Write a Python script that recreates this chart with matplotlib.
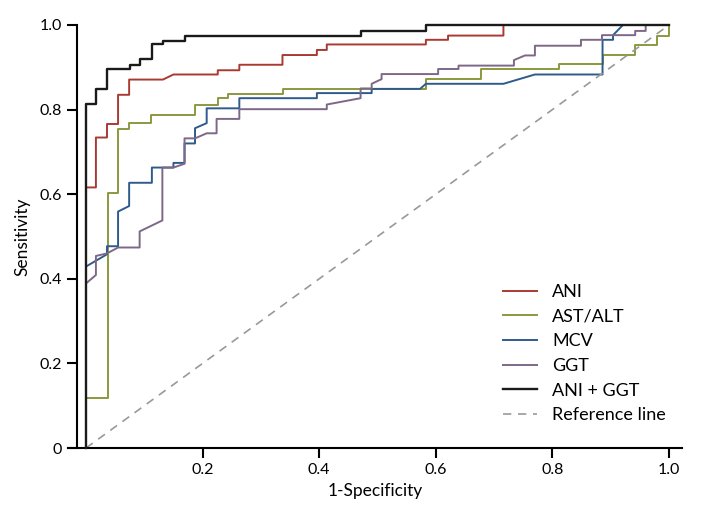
import numpy as np
import matplotlib
matplotlib.use("Agg")
import matplotlib.pyplot as plt

plt.rcParams['font.family'] = ['Lato', 'DejaVu Sans']

# ROC curves: (1-specificity, sensitivity) vertices
ani_x = [0, 0, 0.017, 0.017, 0.036, 0.036, 0.055, 0.055, 0.074, 0.074, 0.132, 0.150,
         0.226, 0.226, 0.263, 0.263, 0.337, 0.337, 0.396, 0.396, 0.413, 0.413,
         0.583, 0.583, 0.621, 0.621, 0.716, 0.716, 1.0]
ani_y = [0, 0.616, 0.616, 0.734, 0.734, 0.766, 0.766, 0.835, 0.835, 0.871, 0.871, 0.883,
         0.883, 0.893, 0.893, 0.906, 0.906, 0.929, 0.929, 0.941, 0.941, 0.954,
         0.954, 0.965, 0.965, 0.975, 0.975, 1.0, 1.0]

astalt_x = [0, 0, 0.038, 0.038, 0.055, 0.055, 0.074, 0.074, 0.111, 0.111, 0.187, 0.187,
            0.226, 0.226, 0.244, 0.244, 0.338, 0.338, 0.583, 0.583, 0.677, 0.677,
            0.811, 0.811, 0.886, 0.886, 0.941, 0.941, 0.979, 0.979, 1.0, 1.0]
astalt_y = [0, 0.119, 0.119, 0.604, 0.604, 0.754, 0.754, 0.768, 0.768, 0.787, 0.787, 0.811,
            0.811, 0.827, 0.827, 0.837, 0.837, 0.849, 0.849, 0.872, 0.872, 0.895,
            0.895, 0.907, 0.907, 0.929, 0.929, 0.953, 0.953, 0.975, 0.975, 1.0]

mcv_x = [0, 0, 0.036, 0.036, 0.055, 0.055, 0.074, 0.074, 0.113, 0.113, 0.150, 0.150,
         0.169, 0.169, 0.187, 0.187, 0.207, 0.207, 0.263, 0.263, 0.396, 0.396,
         0.490, 0.490, 0.573, 0.583, 0.716, 0.770, 0.886, 0.886, 0.904, 0.904, 0.921, 1.0]
mcv_y = [0, 0.429, 0.458, 0.477, 0.477, 0.559, 0.572, 0.627, 0.627, 0.663, 0.663, 0.674,
         0.674, 0.720, 0.720, 0.756, 0.768, 0.803, 0.803, 0.827, 0.827, 0.839,
         0.839, 0.849, 0.849, 0.861, 0.861, 0.883, 0.883, 0.965, 0.965, 0.976, 1.0, 1.0]

ggt_x = [0, 0, 0.017, 0.017, 0.036, 0.055, 0.092, 0.092, 0.131, 0.131, 0.150, 0.169,
         0.169, 0.187, 0.207, 0.224, 0.224, 0.263, 0.263, 0.413, 0.413, 0.471, 0.471,
         0.490, 0.490, 0.507, 0.507, 0.604, 0.604, 0.639, 0.639, 0.734, 0.734, 0.753,
         0.770, 0.770, 0.849, 0.849, 0.885, 0.885, 0.942, 0.942, 0.960, 0.960, 1.0]
ggt_y = [0, 0.389, 0.409, 0.454, 0.460, 0.474, 0.474, 0.512, 0.538, 0.663, 0.663, 0.672,
         0.732, 0.732, 0.744, 0.744, 0.778, 0.778, 0.801, 0.801, 0.812, 0.827, 0.850,
         0.850, 0.861, 0.872, 0.884, 0.884, 0.896, 0.896, 0.904, 0.904, 0.917, 0.928,
         0.928, 0.951, 0.951, 0.965, 0.965, 0.976, 0.976, 0.986, 0.986, 1.0, 1.0]

anigt_x = [0, 0, 0.017, 0.017, 0.036, 0.036, 0.075, 0.075, 0.093, 0.093, 0.113, 0.113,
           0.132, 0.132, 0.169, 0.169, 0.472, 0.472, 0.584, 0.584, 1.0]
anigt_y = [0, 0.813, 0.813, 0.849, 0.849, 0.895, 0.895, 0.905, 0.905, 0.920, 0.920, 0.954,
           0.954, 0.962, 0.962, 0.975, 0.975, 0.986, 0.986, 1.0, 1.0]

labels = ['ANI', 'AST/ALT', 'MCV', 'GGT', 'ANI + GGT', 'Reference line']
colors = ['#a83a32', '#8a9a3e', '#2f5b8c', '#7d6888', '#1a1a1a', '#999999']

fig = plt.figure(figsize=(7.01, 5.11), dpi=100)
ax = fig.add_axes([68 / 701, 63 / 511, 614 / 701, 423 / 511])

curves = [(ani_x, ani_y), (astalt_x, astalt_y), (mcv_x, mcv_y), (ggt_x, ggt_y)]
for (cx, cy), lab, col in zip(curves, labels[:4], colors[:4]):
    ax.plot(cx, cy, color=col, lw=1.4, label=lab, clip_on=False)
ax.plot(anigt_x, anigt_y, color=colors[4], lw=1.7, label=labels[4], clip_on=False, zorder=3)
ax.plot([0, 1], [0, 1], color=colors[5], lw=1.2, ls=(0, (5, 4)), label=labels[5])

ax.set_xlim(-18 / 583, 596 / 583)
ax.set_ylim(0, 1)

for s in ['top', 'right']:
    ax.spines[s].set_visible(False)
ax.spines['left'].set_position(('data', -9 / 583))
ax.spines['left'].set_linewidth(1.5)
ax.spines['bottom'].set_linewidth(1.5)

ax.set_xticks([0.2, 0.4, 0.6, 0.8, 1.0])
ax.set_xticklabels(['0.2', '0.4', '0.6', '0.8', '1.0'])
ax.set_yticks([0, 0.2, 0.4, 0.6, 0.8, 1.0])
ax.set_yticklabels(['0', '0.2', '0.4', '0.6', '0.8', '1.0'])
ax.tick_params(axis='both', direction='out', length=7, width=1.5, labelsize=11.5, pad=4)

ax.set_xlabel('1-Specificity', fontsize=12.5, labelpad=4)
ax.set_ylabel('Sensitivity', fontsize=12.5, labelpad=6)

ax.legend(loc='lower right', bbox_to_anchor=(1.0, 0.02), frameon=False, fontsize=13,
          handlelength=1.85, handletextpad=0.85, labelspacing=0.48)

fig.savefig('out.png', dpi=100)
